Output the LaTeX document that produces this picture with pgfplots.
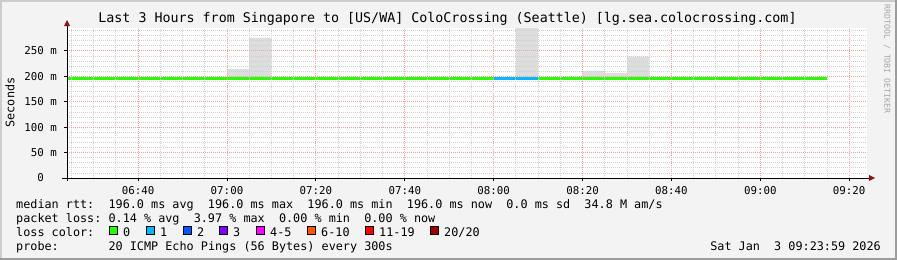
\documentclass[border=0pt]{standalone}
\usepackage{fontspec}
\setmainfont{DejaVu Sans Mono}
\usepackage{pgfplots}
\pgfplotsset{compat=1.18}
\definecolor{bg}{RGB}{243,243,243}
\definecolor{lightedge}{RGB}{204,204,204}
\definecolor{darkedge}{RGB}{156,156,156}
\definecolor{gridc}{RGB}{208,208,208}
\definecolor{mgridc}{RGB}{242,160,160}
\definecolor{smoke}{RGB}{221,221,221}
\definecolor{arrowc}{RGB}{140,20,20}
\definecolor{lc0}{HTML}{26FF00}
\definecolor{lc1}{HTML}{00B8FF}
\definecolor{lc2}{HTML}{0059FF}
\definecolor{lc3}{HTML}{7E00FF}
\definecolor{lc4}{HTML}{FF00FF}
\definecolor{lc6}{HTML}{FF5500}
\definecolor{lc11}{HTML}{FF0000}
\definecolor{lc20}{HTML}{A10000}
\newcommand\lfont{\fontsize{11.8bp}{14bp}\selectfont}
\newcommand\lbox[1]{{\setlength\fboxsep{0pt}\setlength\fboxrule{0.9bp}\fcolorbox{black}{#1}{\rule{0pt}{7bp}\rule{7bp}{0pt}}}}
\begin{document}
\begin{tikzpicture}
\useasboundingbox (0,0) rectangle (897bp,-260bp);
\fill[bg] (0,0) rectangle (897bp,-260bp);
\fill[lightedge] (0,0) rectangle (2bp,-260bp);
\fill[lightedge] (0,0) rectangle (897bp,-2bp);
\fill[darkedge] (895bp,0) rectangle (897bp,-260bp);
\fill[darkedge] (0,-258bp) rectangle (897bp,-260bp);

\begin{axis}[
  at={(67bp,-178bp)}, anchor=south west,
  scale only axis, width=800bp, height=150bp,
  xmin=0, xmax=180, ymin=0, ymax=295,
  axis line style={draw=none},
  axis background/.style={fill=white},
  axis on top,
  xtick={16,36,...,176},
  xticklabels={06:40,07:00,07:20,07:40,08:00,08:20,08:40,09:00,09:20},
  minor xtick={1,6,...,176},
  ytick={0,50,...,250},
  yticklabels={0\phantom{~m},50~m,100~m,150~m,200~m,250~m},
  minor ytick={10,20,...,290},
  grid=both,
  major grid style={draw=mgridc, line width=0.8bp, dash pattern=on 1bp off 1bp},
  minor grid style={draw=gridc, line width=0.8bp, dash pattern=on 1bp off 1bp},
  tick align=outside, xtick pos=left, ytick pos=left,
  major tick length=3bp, minor tick length=0bp,
  tick style={black, line width=0.8bp},
  ticklabel style={font=\fontsize{10.8bp}{12bp}\selectfont, inner sep=0pt},
  xticklabel style={anchor=north, yshift=-5bp},
  yticklabel style={anchor=east, xshift=-7bp},
  /pgf/number format/assume math mode=true,
]
% smoke (spread of pings)
\addplot[fill=smoke, draw=none] coordinates {(36,193) (36,214.6) (41,214.6) (41,275.6) (46,275.6) (46,193)};
\addplot[fill=smoke, draw=none] coordinates {(101,193) (101,300) (106,300) (106,193)};
\addplot[fill=smoke, draw=none] coordinates {(111,193) (111,199.5) (116,199.5) (116,210.6) (121,210.6) (121,206.7) (126,206.7) (126,238.8) (131,238.8) (131,193)};
% median rtt coloured by loss
\addplot[lc0, line width=2.4bp] coordinates {(0,196) (96,196)};
\addplot[lc1, line width=2.4bp] coordinates {(96,196) (106,196)};
\addplot[lc0, line width=2.4bp] coordinates {(106,196) (171,196)};
\end{axis}

% axis lines with arrows
\draw[black, line width=1bp] (62bp,-178bp) -- (870bp,-178bp);
\fill[arrowc] (869bp,-175bp) -- (875bp,-178bp) -- (869bp,-181bp) -- cycle;
\draw[black, line width=1bp] (67bp,-181bp) -- (67bp,-25bp);
\fill[arrowc] (64bp,-26bp) -- (67bp,-20bp) -- (70bp,-26bp) -- cycle;

% title and labels
\node[anchor=base, inner sep=0pt, font=\fontsize{13.33bp}{15bp}\selectfont] at (447.5bp,-22.5bp)
  {Last 3 Hours from Singapore to [US/WA] ColoCrossing (Seattle) [lg.sea.colocrossing.com]};
\node[rotate=90, inner sep=0pt, font=\lfont] at (10bp,-102.5bp) {Seconds};
\node[rotate=-90, inner sep=0pt, text=black!35, font=\fontsize{8.2bp}{9bp}\selectfont] at (887bp,-59bp) {RRDTOOL / TOBI OETIKER};

% legend
\node[anchor=base west, inner sep=0pt, font=\lfont] at (16bp,-208bp)
  {median~rtt:~~196.0~ms~avg~~196.0~ms~max~~196.0~ms~min~~196.0~ms~now~~0.0~ms~sd~~34.8~M~am/s};
\node[anchor=base west, inner sep=0pt, font=\lfont] at (16bp,-222bp)
  {packet~loss:~0.14~\%~avg~~3.97~\%~max~~0.00~\%~min~~0.00~\%~now};
\node[anchor=base west, inner sep=0pt, font=\lfont] at (16bp,-236bp) {loss~color:};
\foreach \x/\c/\t in {109/lc0/0, 146/lc1/1, 183/lc2/2, 219/lc3/3, 256/lc4/4-5, 307/lc6/6-10, 365/lc11/11-19, 430/lc20/20\slash 20}{
  \node[anchor=south west, inner sep=0pt] at (\x bp,-235bp) {\lbox{\c}};
  \node[anchor=base west, inner sep=0pt, font=\lfont] at (\x bp+14bp,-236bp) {\t};
}
\node[anchor=base west, inner sep=0pt, font=\lfont] at (16bp,-250bp)
  {probe:~~~~~~~20~ICMP~Echo~Pings~(56~Bytes)~every~300s};
\node[anchor=base east, inner sep=0pt, font=\lfont] at (881bp,-250bp)
  {Sat~Jan~~3~09:23:59~2026};
\end{tikzpicture}
\end{document}
